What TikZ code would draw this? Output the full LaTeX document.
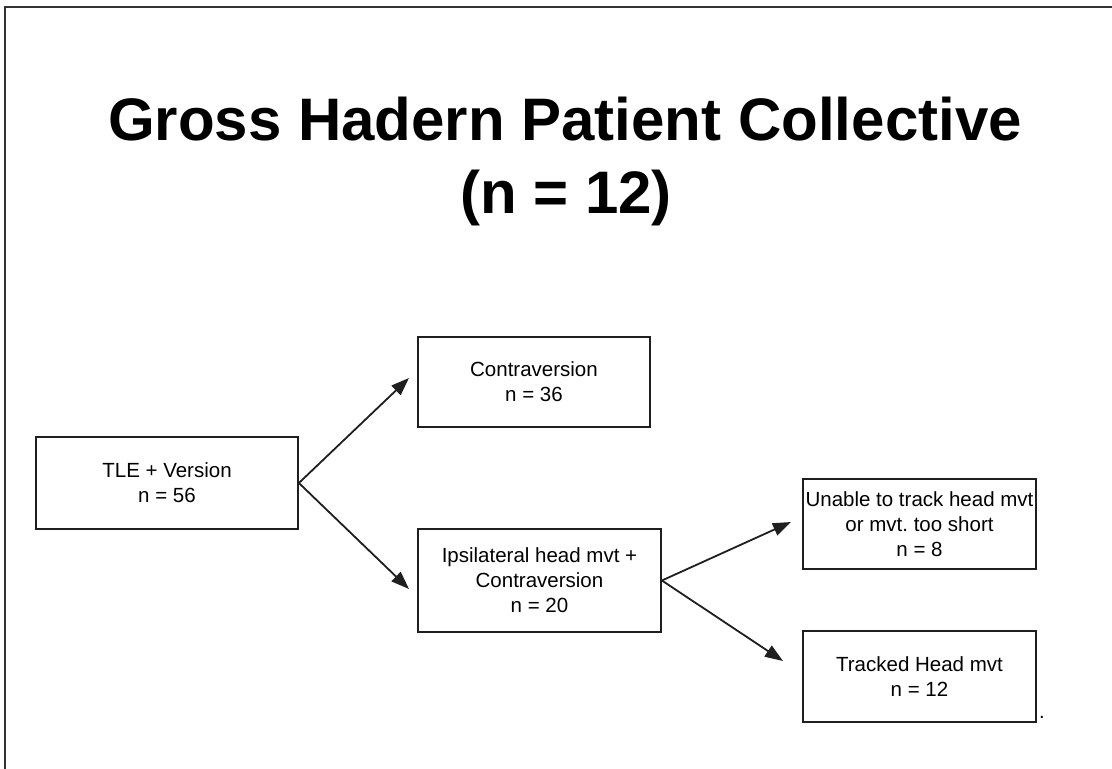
\documentclass[tikz,border=0pt]{standalone}
\usepackage{fontspec}
\setmainfont{Liberation Sans}
\usetikzlibrary{arrows.meta}
\begin{document}
\frenchspacing
\begin{tikzpicture}[x=1pt,y=-1pt,
  box/.style={draw=black!88, line width=1.8pt, align=center, inner sep=0pt,
    font=\fontsize{20.5}{25}\selectfont},
  link/.style={draw=black!88, line width=1.8pt, -{Triangle[length=18pt,width=13pt]}},
  ttl/.style={font=\fontsize{60}{73}\selectfont\bfseries, inner sep=0pt, anchor=base},
  frame/.style={draw=black!80, line width=1.6pt}]
\useasboundingbox (0,0) rectangle (1112,769);
\fill[white] (0,0) rectangle (1112,769);
\draw[frame] (5,769) -- (5,7) -- (1112,7);

\node[ttl] (title1) at (565,140) {Gross Hadern Patient Collective};
\node[ttl] (title2) at (566,213) {(n = 12)};

\node[box, minimum width=262pt, minimum height=92pt] (tle) at (167,483) {TLE + Version\\n = 56};
\node[box, minimum width=232pt, minimum height=90pt] (contra) at (534,382) {Contraversion\\n = 36};
\node[box, minimum width=243pt, minimum height=103pt] (ipsi) at (539.5,580.5) {Ipsilateral head mvt +\\Contraversion\\n = 20};
\node[box, minimum width=233pt, minimum height=90pt] (unable) at (919.5,524) {Unable to track head mvt\\or mvt.\ too short\\n = 8};
\node[box, minimum width=233pt, minimum height=91pt] (tracked) at (919.5,676.5) {Tracked Head mvt\\n = 12};
\node[font=\fontsize{20}{20}\selectfont, inner sep=0pt, anchor=base] (dot) at (1042,718) {.};

\coordinate (t1) at (409,378);
\coordinate (t2) at (409,589);
\coordinate (t3) at (791,522);
\coordinate (t4) at (783,661);

\draw[link] (tle.east) -- (t1);
\draw[link] (tle.east) -- (t2);
\draw[link] (ipsi.east) -- (t3);
\draw[link] (ipsi.east) -- (t4);
\end{tikzpicture}
\end{document}
